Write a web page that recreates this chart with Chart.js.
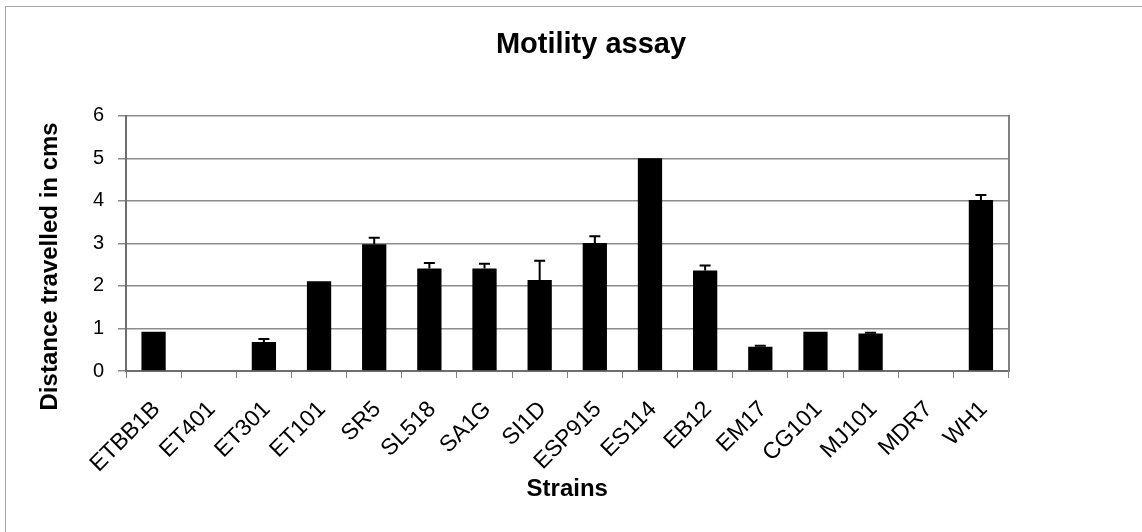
<!DOCTYPE html>
<html lang="en">
<head>
<meta charset="UTF-8" />
<title>Motility assay</title>
<script src="https://cdn.jsdelivr.net/npm/chart.js"></script>
<style>
  html, body { margin: 0; padding: 0; background: #fff; overflow: hidden; }
  .frame {
    position: absolute; left: 5px; top: 6px; width: 1200px; height: 600px;
    border-left: 1px solid #a6a6a6; border-top: 1px solid #a6a6a6;
  }
  .wrap { position: absolute; left: 0; top: 0; width: 1142px; height: 532px; }
</style>
</head>
<body>
  <div class="frame"></div>
  <div class="wrap"><canvas id="motilityChart" width="1142" height="532"></canvas></div>

  <script>
    // data
    const strains = ['ETBB1B', 'ET401', 'ET301', 'ET101', 'SR5', 'SL518', 'SA1G', 'SI1D',
                     'ESP915', 'ES114', 'EB12', 'EM17', 'CG101', 'MJ101', 'MDR7', 'WH1'];
    const distance = [0.92, 0, 0.68, 2.11, 2.98, 2.41, 2.41, 2.14, 3.01, 5.0, 2.36, 0.57, 0.92, 0.88, 0, 4.02];
    const errorPlus = [0, 0, 0.07, 0, 0.15, 0.13, 0.11, 0.45, 0.16, 0, 0.12, 0.025, 0, 0.02, 0, 0.12];
    const yTicks = [0, 1, 2, 3, 4, 5, 6];

    const font = "'Liberation Sans', Arial, sans-serif";

    // plus-only error bars, Excel style
    const errorBars = {
      id: 'errorBars',
      afterDatasetsDraw(chart) {
        const ctx = chart.ctx;
        const y = chart.scales.y;
        const meta = chart.getDatasetMeta(0);
        ctx.save();
        ctx.strokeStyle = '#000';
        ctx.lineWidth = 2;
        meta.data.forEach((bar, i) => {
          if (!errorPlus[i]) return;
          const top = y.getPixelForValue(distance[i] + errorPlus[i]);
          ctx.beginPath();
          ctx.moveTo(bar.x, bar.y);
          ctx.lineTo(bar.x, top);
          ctx.moveTo(bar.x - 5.5, top);
          ctx.lineTo(bar.x + 5.5, top);
          ctx.stroke();
        });
        ctx.restore();
      }
    };

    // y axis title, sits a little below the axis centre like the original
    const yTitle = {
      id: 'yTitle',
      afterDraw(chart) {
        const { ctx, chartArea: a } = chart;
        ctx.save();
        ctx.translate(50, (a.top + a.bottom) / 2 + 23);
        ctx.rotate(-Math.PI / 2);
        ctx.font = 'bold 24px ' + font;
        ctx.fillStyle = '#000';
        ctx.textAlign = 'center';
        ctx.textBaseline = 'middle';
        ctx.fillText('Distance travelled in cms', 0, 0);
        ctx.restore();
      }
    };

    new Chart(document.getElementById('motilityChart'), {
      type: 'bar',
      data: {
        labels: strains,
        datasets: [{
          label: 'Distance travelled in cms',
          data: distance,
          backgroundColor: '#000',
          borderWidth: 0,
          categoryPercentage: 1,
          barPercentage: 0.44
        }]
      },
      options: {
        responsive: false,
        animation: false,
        layout: { padding: { left: 40, right: 0, top: 0, bottom: 0 } },
        plugins: {
          legend: { display: false },
          tooltip: { enabled: false },
          title: {
            display: true,
            text: 'Motility assay',
            color: '#000',
            font: { family: font, size: 29, weight: 'bold', lineHeight: 1.2 },
            padding: { top: 28, bottom: 53 }
          }
        },
        scales: {
          x: {
            offset: true,
            grid: {
              offset: true,
              drawOnChartArea: false,
              drawTicks: true,
              tickLength: 7,
              color: '#808080'
            },
            border: { color: '#6e6e6e', width: 2 },
            ticks: {
              autoSkip: false,
              minRotation: 45,
              maxRotation: 45,
              padding: 18,
              labelOffset: 3,
              color: '#000',
              font: { family: font, size: 23 }
            },
            title: {
              display: true,
              text: 'Strains',
              color: '#000',
              font: { family: font, size: 24, weight: 'bold', lineHeight: 1.2 },
              padding: { top: 0, bottom: 28 }
            },
            afterFit(scale) { scale.height = 161; }
          },
          y: {
            min: 0,
            max: 6,
            afterBuildTicks(scale) { scale.ticks = yTicks.map(v => ({ value: v })); },
            grid: {
              color: '#8c8c8c',
              lineWidth: 1.5,
              tickLength: 8,
              drawTicks: true
            },
            border: { color: '#6e6e6e', width: 2 },
            ticks: {
              padding: 14,
              color: '#000',
              font: { family: font, size: 20 }
            },
            afterFit(scale) { scale.width = 86; }
          },
          // empty right axis: gives the plot its right-hand edge and keeps the space beside it
          y2: {
            position: 'right',
            min: 0,
            max: 6,
            grid: { drawOnChartArea: false, drawTicks: false },
            border: { display: true, color: '#808080', width: 2 },
            ticks: { display: false },
            afterFit(scale) { scale.width = 133.5; }
          }
        }
      },
      plugins: [errorBars, yTitle]
    });
  </script>
</body>
</html>
